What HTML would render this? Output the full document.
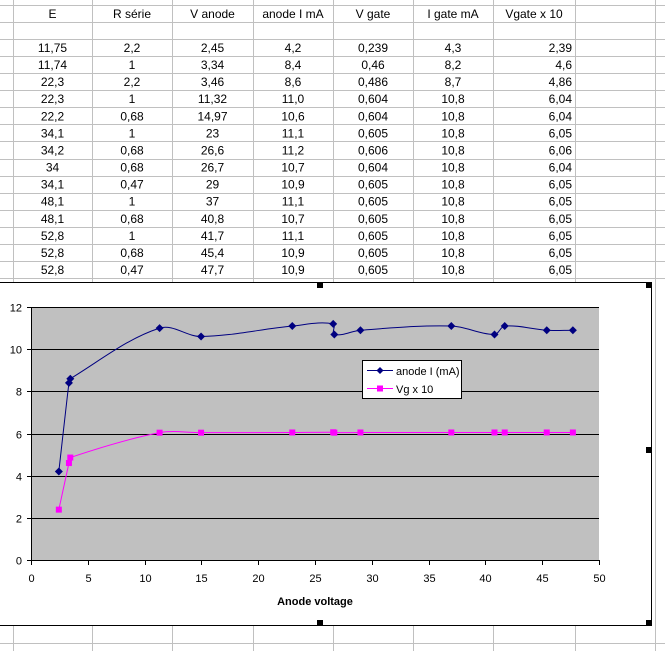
<!DOCTYPE html>
<html><head><meta charset="utf-8"><style>
body{margin:0;width:665px;height:651px;overflow:hidden;background:#fff;font-family:"Liberation Sans",Arial,sans-serif;position:relative}
</style></head><body>
<svg width="665" height="651" style="position:absolute;left:0;top:0" id="s" xmlns="http://www.w3.org/2000/svg"></svg>
<script>
const NS="http://www.w3.org/2000/svg";const s=document.getElementById('s');
function el(t,a,txt){const e=document.createElementNS(NS,t);for(const k in a)e.setAttribute(k,a[k]);if(txt!=null)e.textContent=txt;s.appendChild(e);return e;}
const cols=[13,92,172,253,333,413,493,575,655];
for(const x of cols) el('line',{x1:x+.5,y1:0,x2:x+.5,y2:651,stroke:'#c0c0c0'});
const rows=[5,22,39];for(let k=1;k<=14;k++)rows.push(39+k*17.08);
for(let k=1;k<3;k++)rows.push(626+k*17);
for(const y of rows) el('line',{x1:0,y1:Math.round(y)+.5,x2:665,y2:Math.round(y)+.5,stroke:'#c0c0c0'});
const hdr=['E','R série','V anode','anode I mA','V gate','I gate mA','Vgate x 10'];
const data=[["11,75","2,2","2,45","4,2","0,239","4,3","2,39"],["11,74","1","3,34","8,4","0,46","8,2","4,6"],["22,3","2,2","3,46","8,6","0,486","8,7","4,86"],["22,3","1","11,32","11,0","0,604","10,8","6,04"],["22,2","0,68","14,97","10,6","0,604","10,8","6,04"],["34,1","1","23","11,1","0,605","10,8","6,05"],["34,2","0,68","26,6","11,2","0,606","10,8","6,06"],["34","0,68","26,7","10,7","0,604","10,8","6,04"],["34,1","0,47","29","10,9","0,605","10,8","6,05"],["48,1","1","37","11,1","0,605","10,8","6,05"],["48,1","0,68","40,8","10,7","0,605","10,8","6,05"],["52,8","1","41,7","11,1","0,605","10,8","6,05"],["52,8","0,68","45,4","10,9","0,605","10,8","6,05"],["52,8","0,47","47,7","10,9","0,605","10,8","6,05"]];
const ff='Liberation Sans, Arial, sans-serif';
hdr.forEach((h,i)=>el('text',{x:(cols[i]+cols[i+1])/2,y:18,'font-size':12,'font-family':ff,'text-anchor':'middle'},h));
data.forEach((r,j)=>{const y=39+j*17.08+13;r.forEach((v,i)=>{
 if(i==6)el('text',{x:cols[7]-3,y:y,'font-size':12,'font-family':ff,'text-anchor':'end'},v);
 else el('text',{x:(cols[i]+cols[i+1])/2,y:y,'font-size':12,'font-family':ff,'text-anchor':'middle'},v);});});
el('rect',{x:-2,y:282.5,width:653.5,height:343,fill:'#fff',stroke:'#000'});
const X=v=>31+v*11.36, Y=v=>560-v*21.08;
el('rect',{x:31,y:Y(12),width:568,height:560-Y(12),fill:'#c0c0c0'});
for(let v=2;v<=12;v+=2)el('line',{x1:31,x2:599,y1:Math.round(Y(v))+.5,y2:Math.round(Y(v))+.5,stroke:'#000'});
el('line',{x1:31.5,x2:31.5,y1:Y(12),y2:560,stroke:'#000'});
el('line',{x1:31,x2:599,y1:560.5,y2:560.5,stroke:'#000'});
for(let v=0;v<=12;v+=2){const y=Math.round(Y(v))+.5;el('line',{x1:27,x2:31,y1:y,y2:y,stroke:'#000'});el('text',{x:22,y:y+4,'font-size':11,'font-family':ff,'text-anchor':'end'},v);}
for(let v=0;v<=50;v+=5){const x=Math.round(X(v))+.5;el('line',{x1:x,x2:x,y1:560,y2:565,stroke:'#000'});el('text',{x:x,y:582,'font-size':11,'font-family':ff,'text-anchor':'middle'},v);}
el('text',{x:315,y:605,'font-size':11,'font-weight':'bold','font-family':ff,'text-anchor':'middle'},'Anode voltage');
const va=[2.45,3.34,3.46,11.32,14.97,23,26.6,26.7,29,37,40.8,41.7,45.4,47.7];
const ia=[4.2,8.4,8.6,11.0,10.6,11.1,11.2,10.7,10.9,11.1,10.7,11.1,10.9,10.9];
const vg=[2.39,4.6,4.86,6.04,6.04,6.05,6.06,6.04,6.05,6.05,6.05,6.05,6.05,6.05];
function smooth(ys){const p=va.map((v,i)=>[X(v),Y(ys[i])]);let d='M'+p[0][0]+','+p[0][1];
 const tan=i=>{const a=p[i-1]||p[i],b=p[i+1]||p[i];let dx=b[0]-a[0],dy=b[1]-a[1];const L=Math.hypot(dx,dy)||1;return [dx/L,dy/L];};
 for(let i=0;i<p.length-1;i++){const p1=p[i],p2=p[i+1];const L=Math.hypot(p2[0]-p1[0],p2[1]-p1[1])/3;const t1=tan(i),t2=tan(i+1);
 d+=` C${p1[0]+t1[0]*L},${p1[1]+t1[1]*L} ${p2[0]-t2[0]*L},${p2[1]-t2[1]*L} ${p2[0]},${p2[1]}`;}return d;}
el('path',{d:smooth(vg),fill:'none',stroke:'#ff00ff'});
el('path',{d:smooth(ia),fill:'none',stroke:'#000080'});
va.forEach((v,i)=>{el('rect',{x:X(v)-3,y:Y(vg[i])-3,width:6,height:6,fill:'#ff00ff'});});
va.forEach((v,i)=>{const x=X(v),y=Y(ia[i]);el('polygon',{points:`${x},${y-4} ${x+4},${y} ${x},${y+4} ${x-4},${y}`,fill:'#000080'});});
el('rect',{x:362.5,y:360.5,width:99,height:38,fill:'#fff',stroke:'#000'});
el('line',{x1:367,x2:393,y1:370.5,y2:370.5,stroke:'#000080'});
el('polygon',{points:'380,367 383.5,370.5 380,374 376.5,370.5',fill:'#000080'});
el('text',{x:396,y:375,'font-size':11,'font-family':ff},'anode I (mA)');
el('line',{x1:367,x2:393,y1:388.5,y2:388.5,stroke:'#ff00ff'});
el('rect',{x:377,y:385.5,width:6,height:6,fill:'#ff00ff'});
el('text',{x:396,y:393,'font-size':11,'font-family':ff},'Vg x 10');
[[317,282],[646,282],[646,447],[317,620],[646,620]].forEach(([x,y])=>el('rect',{x:x,y:y,width:6,height:6,fill:'#000'}));
</script>
</body></html>
